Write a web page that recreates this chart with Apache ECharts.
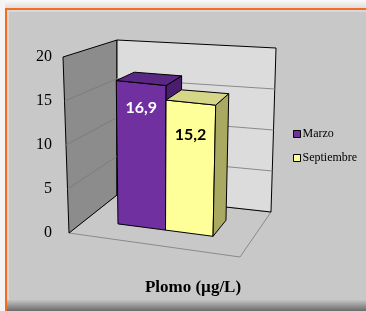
<!DOCTYPE html>
<html>
<head>
<meta charset="utf-8">
<script src="https://cdn.jsdelivr.net/npm/echarts@6/dist/echarts.min.js"></script>
<style>
html, body { margin: 0; padding: 0; background: #fff; }
#main { width: 366px; height: 311px; }
</style>
</head>
<body>
<div id="main"></div>
<script>
// datos
const categories = ['Plomo (µg/L)'];
const seriesNames = ['Marzo', 'Septiembre'];
const marzo = [16.9];
const septiembre = [15.2];
const yTicks = [0, 5, 10, 15, 20];

// colores de cada serie: frente, arriba, lado
const barStyles = [
  { front: '#7030a0', top: '#5a2784', side: '#4a1d6e', label: '#ffffff', labelPos: 0.83 },
  { front: '#ffff99', top: '#d6d68a', side: '#a9a962', label: '#000000', labelPos: 0.75 }
];

// esquinas de la caja 3D en pantalla (u: ancho, v: altura, z: fondo)
const box = {
  f00: [69, 233], f01: [63, 57], f10: [240, 257], f11: [246, 78],
  b00: [117, 195], b01: [117, 40], b10: [271, 212], b11: [276, 48]
};
const depth = [0.35, 0.72];
const barFrac = 0.288;
const barShift = -0.017;

function lerp(p, q, t) { return [p[0] + (q[0] - p[0]) * t, p[1] + (q[1] - p[1]) * t]; }
function proj(u, v, z) {
  const f = lerp(lerp(box.f00, box.f10, u), lerp(box.f01, box.f11, u), v);
  const b = lerp(lerp(box.b00, box.b10, u), lerp(box.b01, box.b11, u), v);
  return lerp(f, b, z);
}
function poly(pts, fill, stroke) {
  return { type: 'polygon', shape: { points: pts }, style: { fill: fill, stroke: stroke, lineWidth: 1 } };
}
function line(p, q, stroke) {
  return { type: 'line', shape: { x1: p[0], y1: p[1], x2: q[0], y2: q[1] }, style: { stroke: stroke, lineWidth: 1 } };
}

// paredes y suelo
function renderWalls(params, api) {
  return {
    type: 'group',
    children: [
      poly([proj(0, 0, 0), proj(1, 0, 0), proj(1, 0, 1), proj(0, 0, 1)], 'rgba(0,0,0,0)', '#8a8a8a'),
      poly([proj(0, 0, 0), proj(0, 1, 0), proj(0, 1, 1), proj(0, 0, 1)], '#8c8c8c', '#000'),
      poly([proj(0, 0, 1), proj(1, 0, 1), proj(1, 1, 1), proj(0, 1, 1)], '#dcdcdc', '#000')
    ]
  };
}

// lineas de division
function renderGridLines(params, api) {
  const cs = params.coordSys;
  const p = api.coord([0, api.value(1)]);
  const v = (cs.y + cs.height - p[1]) / cs.height;
  return {
    type: 'group',
    children: [
      line(proj(0, v, 0), proj(0, v, 1), '#7c7c7c'),
      line(proj(0, v, 1), proj(1, v, 1), '#8a8a8a')
    ]
  };
}

function renderBar(idx) {
  return function (params, api) {
    const cs = params.coordSys;
    const base = api.coord([api.value(0), 0]);
    const top = api.coord([api.value(0), api.value(1)]);
    const band = api.size([1, 0])[0];
    const uc = (base[0] - cs.x) / cs.width + barShift;
    const w = band * barFrac / cs.width;
    const u0 = idx === 0 ? uc - w : uc;
    const u1 = u0 + w;
    const v = (base[1] - top[1]) / cs.height;
    const z0 = depth[0], z1 = depth[1];
    const st = barStyles[idx];
    const lp = proj((u0 + u1) / 2, v * st.labelPos, z0);
    return {
      type: 'group',
      children: [
        poly([proj(u0, 0, z0), proj(u1, 0, z0), proj(u1, v, z0), proj(u0, v, z0)], st.front, '#000'),
        poly([proj(u1, 0, z0), proj(u1, 0, z1), proj(u1, v, z1), proj(u1, v, z0)], st.side, '#000'),
        poly([proj(u0, v, z0), proj(u1, v, z0), proj(u1, v, z1), proj(u0, v, z1)], st.top, '#000'),
        {
          type: 'text',
          style: {
            text: api.value(1).toFixed(1).replace('.', ','),
            x: lp[0], y: lp[1],
            fill: st.label,
            font: 'bold 16px Lato',
            align: 'center',
            verticalAlign: 'middle'
          }
        }
      ]
    };
  };
}

const chart = echarts.init(document.getElementById('main'));
const option = {
  backgroundColor: '#c8c8c8',
  animation: false,
  graphic: [
    { type: 'rect', z: -1, shape: { x: 0, y: 0, width: 366, height: 8 },
      style: { fill: new echarts.graphic.LinearGradient(0, 0, 0, 1, [{ offset: 0, color: '#fafafa' }, { offset: 1, color: '#dedede' }]) } },
    { type: 'rect', z: -1, shape: { x: 0, y: 0, width: 5, height: 311 }, style: { fill: '#f4f4f4' } },
    { type: 'rect', z: -1, shape: { x: 5, y: 8, width: 361, height: 2 }, style: { fill: '#f36c21' } },
    { type: 'rect', z: -1, shape: { x: 5, y: 8, width: 2, height: 303 }, style: { fill: '#f36c21' } },
    { type: 'rect', z: -1, shape: { x: 7, y: 10, width: 359, height: 2 }, style: { fill: '#d8d8d8' } },
    { type: 'rect', z: -1, shape: { x: 7, y: 10, width: 2, height: 291 }, style: { fill: '#d8d8d8' } },
    { type: 'rect', z: -1, shape: { x: 7, y: 300, width: 359, height: 11 },
      style: { fill: new echarts.graphic.LinearGradient(0, 0, 0, 1, [{ offset: 0, color: '#c4c4c4' }, { offset: 1, color: '#6a6a6a' }]) } }
  ],
  grid: { left: 66, top: 57, width: 174, height: 176 },
  legend: {
    data: seriesNames,
    orient: 'vertical',
    left: 288,
    top: 123,
    itemWidth: 7,
    itemHeight: 7,
    itemGap: 12,
    icon: 'rect',
    itemStyle: { borderColor: '#000', borderWidth: 1 },
    textStyle: { fontFamily: 'Liberation Serif', fontSize: 12, color: '#000', padding: [0, 0, 0, -3] }
  },
  xAxis: {
    type: 'category',
    data: categories,
    axisLine: { show: false },
    axisTick: { show: false },
    axisLabel: {
      margin: 46,
      padding: [0, 0, 0, 80],
      fontFamily: 'Liberation Serif',
      fontWeight: 'bold',
      fontSize: 17,
      color: '#000'
    }
  },
  yAxis: {
    type: 'value',
    min: 0,
    max: 20,
    interval: 5,
    axisLine: { show: false },
    axisTick: { show: false },
    splitLine: { show: false },
    axisLabel: { margin: 14, fontFamily: 'Liberation Serif', fontSize: 16, color: '#000' }
  },
  series: [
    { name: 'paredes', type: 'custom', z: 1, silent: true, renderItem: renderWalls, data: [[0, 0]] },
    { name: 'divisiones', type: 'custom', z: 2, silent: true, renderItem: renderGridLines,
      data: yTicks.filter(t => t > 0 && t < 20).map(t => [0, t]) },
    { name: seriesNames[0], type: 'custom', z: 3, renderItem: renderBar(0),
      itemStyle: { color: barStyles[0].front }, data: marzo.map((v, i) => [i, v]) },
    { name: seriesNames[1], type: 'custom', z: 4, renderItem: renderBar(1),
      itemStyle: { color: barStyles[1].front }, data: septiembre.map((v, i) => [i, v]) }
  ]
};
chart.setOption(option);
</script>
</body>
</html>
